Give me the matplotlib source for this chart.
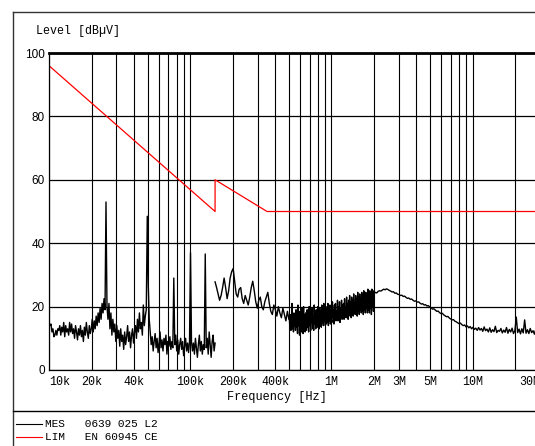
import matplotlib
matplotlib.use("Agg")
import matplotlib.pyplot as plt
import numpy as np
from matplotlib.lines import Line2D

# limit line EN 60945 (conducted)
lim_f = [10e3, 150e3, 150e3, 350e3, 30e6]
lim_v = [96, 50, 60, 50, 50]

# measurement, 10 kHz - 150 kHz
mes1_v = [15, 14, 14.5, 12, 13, 10.5, 11, 12.5, 11, 13, 12.5, 14,
          11, 13.5, 12, 15, 10.5, 14, 12, 13, 11, 15, 12, 14.5, 11.5, 13, 10,
          14, 12, 9.5, 13, 11, 14, 10.5, 12.5, 9, 13.5, 11, 15, 12, 10, 14,
          11.5, 13, 16, 12, 15.5,
          13, 17, 14, 18, 15, 19.5, 16, 21, 18, 22.5, 19,
          53,
          20, 16, 21, 13, 18, 11, 16, 12, 14.5,
          9, 14, 10, 12.5, 7.5, 13, 9, 11, 6.5, 12, 8, 10.5, 14, 9, 12, 7, 11,
          13, 8.5, 12,
          14, 10, 16, 12, 18, 13, 15, 11, 20.5, 14, 17, 19,
          48.5,
          27, 16,
          12, 8, 10.5, 6, 9, 11.5, 7, 10, 5.5, 8.5, 12, 7, 9.5, 6, 10, 8, 11,
          5, 9, 7.5, 10.5, 6.5, 9, 7,
          29,
          8, 11, 6, 9.5, 5, 8, 10, 6.5, 9, 4.5, 7.5, 10, 6, 8.5, 5.5, 9,
          37,
          9, 6, 8.5, 5, 10, 7, 4, 8, 11, 6, 9, 5, 8, 6.5,
          36.6,
          7, 10, 5, 12, 8, 4, 9, 11, 6, 8.5]

# measurement, 150 kHz - 500 kHz
mes2_v = [27.8, 26, 24, 22, 23.5, 26, 29, 26, 22.5, 25, 29, 31, 32, 28, 24,
          23, 25.5, 26, 22.5, 21, 23.5, 22, 20.5, 23, 26, 28, 25, 21.5, 19.5,
          22, 23, 20, 19, 21.5, 23, 24.5, 21, 18.5, 17.5, 20.5, 19, 17, 20,
          18, 16.5, 19.5, 17.5, 15.5, 18.5, 16]

# measurement, 500 kHz - 2 MHz
mes3_v = [16, 13, 17.5, 12.5, 15, 21, 13, 16.5, 12, 18, 14, 15.5,
          12.5, 19, 13.5, 17, 11.5, 20.5, 14, 16, 11, 18.5, 13, 17,
          12, 19.5, 14.5, 11.5, 20, 13, 17.5, 12, 18, 15, 12.5, 19,
          13.5, 16.5, 12, 20, 14, 18, 12.5, 17, 15, 19.5, 13, 16,
          12.5, 20.5, 14.5, 17.5, 13, 19, 15.5, 13.5, 20, 14, 18, 13,
          19.5, 14, 17, 13.5, 20.5, 15, 18.5, 14, 21, 15.5, 17.5, 14,
          20, 14.5, 19, 15, 21, 14, 18, 15.5, 20.5, 14.5, 19.5, 16,
          15, 21.5, 16.5, 19, 14.5, 20.5, 16, 21, 15.5, 18.5, 16, 22,
          15.5, 20, 17, 21.5, 15, 19.5, 16.5, 22, 16, 20.5, 17.5, 21,
          16, 22.5, 17, 20, 16.5, 23, 17.5, 21, 16, 22, 18, 23.5,
          17, 21.5, 16.5, 23, 18, 22, 17, 24, 18.5, 21, 17.5, 23.5,
          18, 22.5, 17, 24.5, 18.5, 23, 17.5, 24, 19, 22, 18, 24.5,
          18.5, 23.5, 17.5, 25, 19, 22.5, 18, 24.5, 19.5, 23, 18, 25.5,
          19, 24, 18, 25, 19.5, 23.5, 17.5, 25.5, 20, 24, 18.5, 25]

# measurement, 2 MHz - 30 MHz
mes4_v = [24, 24.5, 24.3, 24.8, 25, 24.9, 25.2, 25.5, 25.3, 25.6, 25.4,
          25.1, 24.9, 24.6, 24.7, 24.2, 24.3, 23.9, 23.8, 23.5, 23.6,
          23.2, 23.3, 22.9, 22.6, 22.7, 22.3, 22.4, 22, 21.7, 21.8,
          21.4, 21.5, 21.1, 20.8, 20.9, 20.5, 20.6, 20.2, 20.3, 19.9,
          19.6, 19.2, 19.3, 18.9, 18.5, 18.6, 18.1, 17.8, 17.9, 17.4,
          17.1, 16.8, 16.9, 16.4, 16.1, 15.8, 15.9, 15.4, 15.2, 14.9,
          14.6, 14.8, 14.3, 14, 14.2, 13.6, 13.9, 13.3, 13.7, 13,
          13.5, 12.8, 13.2, 12.5, 13.4, 12.6, 13.1, 12.2, 13.6, 12.4,
          12.9, 12, 13.3, 11.9, 12.7, 12.1, 13.8, 11.8, 12.5, 12.2,
          13.1, 11.7, 12.6, 11.9, 13.4, 11.6, 12.8, 12, 13.2, 11.5,
          12.4, 16.7, 11.8, 12.9, 11.4, 13, 11.7, 15.8, 11.6, 12.7,
          11.5, 13.1, 11.8, 12.4, 11.3, 12.9, 11.6, 12.2, 11.8]

# sweep frequencies of each segment
mes1_f = np.geomspace(10e3, 150e3, len(mes1_v))
mes2_f = np.geomspace(150e3, 500e3, len(mes2_v))
mes3_f = np.geomspace(500e3, 2e6, len(mes3_v) + 1)[1:]
mes4_f = np.geomspace(2e6, 30e6, len(mes4_v))
mes_hi_f = np.concatenate([mes2_f, mes3_f, mes4_f])
mes_hi_v = np.concatenate([mes2_v, mes3_v, mes4_v])

tick_f = [10e3, 20e3, 40e3, 100e3, 200e3, 400e3, 1e6, 2e6, 3e6, 5e6, 10e6, 30e6]
tick_lab = ["10k", "20k", "40k", "100k", "200k", "400k", "1M", "2M", "3M",
            "5M", "10M", "30M"]
grid_f = [m * 10 ** e for e in range(4, 8) for m in range(1, 10)
          if 10e3 <= m * 10 ** e <= 30e6]

mono = "Liberation Mono"

fig = plt.figure(figsize=(5.35, 4.46), dpi=100)
ax = fig.add_axes([49 / 535, 76 / 446, 491 / 535, 317 / 446])

ax.plot(mes1_f, mes1_v, color="black", lw=1.0)
ax.plot(mes_hi_f, mes_hi_v, color="black", lw=1.0)
ax.plot(lim_f, lim_v, color="#ff0000", lw=0.9)

ax.set_xscale("log")
ax.set_xlim(10e3, 30e6)
ax.set_ylim(0, 100)
ax.set_xticks(grid_f, minor=True)
ax.set_xticks(tick_f)
ax.set_xticklabels(tick_lab, family=mono, fontsize=8.4)
ax.get_xticklabels()[0].set_horizontalalignment("left")
ax.get_xticklabels()[-1].set_horizontalalignment("right")
ax.set_yticks([0, 20, 40, 60, 80, 100])
ax.set_yticklabels(["0", "20", "40", "60", "80", "100"], family="Liberation Sans", fontsize=8.5)
ax.tick_params(which="both", length=0)
ax.tick_params(axis="x", pad=4)
ax.tick_params(axis="y", pad=3)
ax.grid(which="both", axis="x", color="black", lw=0.8)
ax.grid(which="major", axis="y", color="black", lw=0.9)
ax.spines["top"].set_linewidth(2)
ax.spines["right"].set_visible(False)
ax.spines["left"].set_linewidth(0.9)
ax.spines["bottom"].set_linewidth(0.9)

fig.text(277 / 535, 1 - 397 / 446, "Frequency [Hz]", family=mono, fontsize=8.6,
         ha="center", va="center")
fig.text(36 / 535, 1 - 31 / 446, "Level [dB\u00b5V]", family=mono, fontsize=8.4,
         va="center", ha="left")

# outer frame and legend box
fig.add_artist(Line2D([13 / 535, 1], [1 - 12 / 446] * 2, color="#333333", lw=1))
fig.add_artist(Line2D([13 / 535] * 2, [0, 1 - 12 / 446], color="#333333", lw=1))
fig.add_artist(Line2D([13 / 535, 1], [1 - 411 / 446] * 2, color="black", lw=1))
fig.add_artist(Line2D([16 / 535, 42 / 535], [1 - 424 / 446] * 2, color="black", lw=0.8))
fig.add_artist(Line2D([16 / 535, 42 / 535], [1 - 437 / 446] * 2, color="#ff0000", lw=0.8))
fig.text(45 / 535, 1 - 424 / 446, "MES   0639 025 L2", family=mono, fontsize=8, va="center")
fig.text(45 / 535, 1 - 437 / 446, "LIM   EN 60945 CE", family=mono, fontsize=8, va="center")

fig.savefig("out.png", dpi=100)
